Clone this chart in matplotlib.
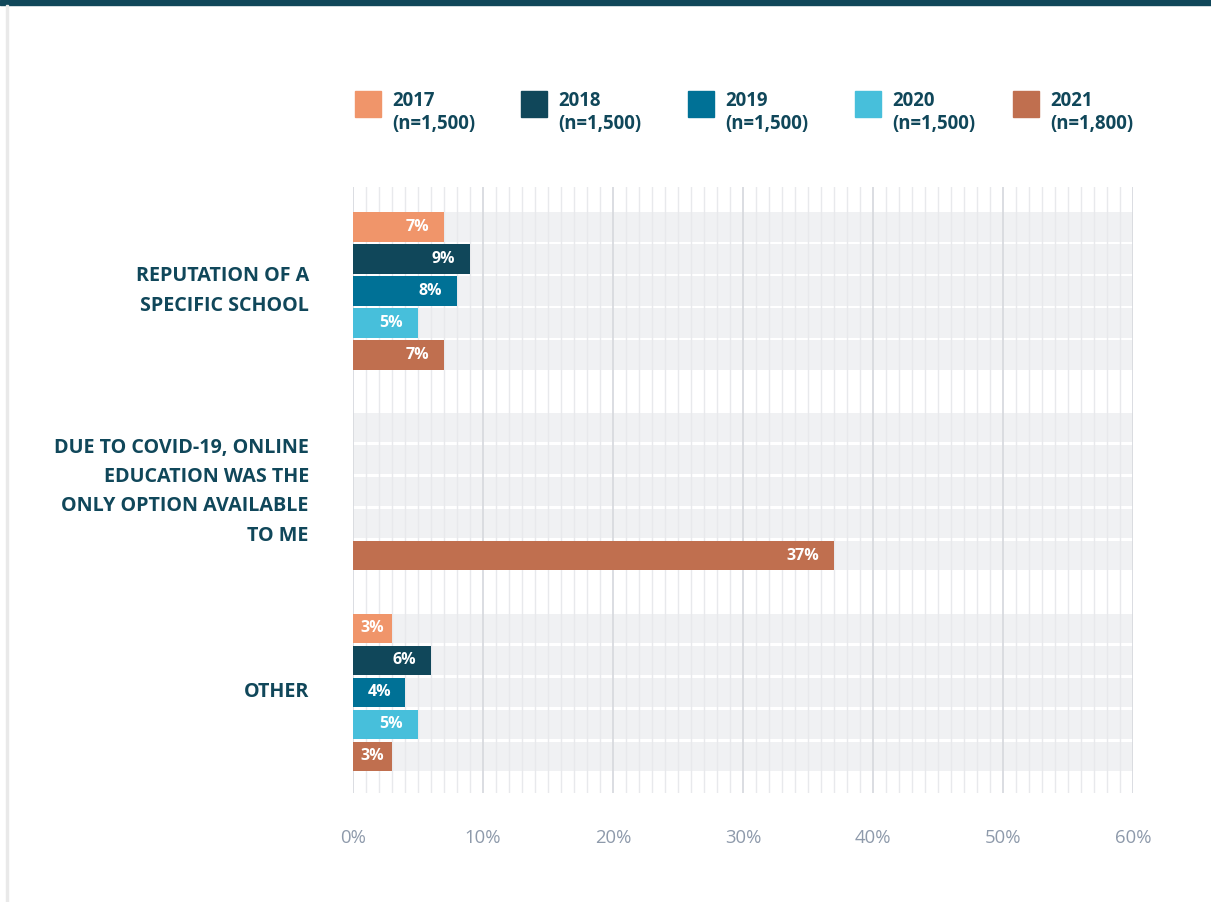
import numpy as np
import matplotlib.pyplot as plt
from matplotlib.patches import Rectangle

plt.rcParams['font.family'] = ['Open Sans', 'DejaVu Sans']

categories = ['REPUTATION OF A\nSPECIFIC SCHOOL',
              'DUE TO COVID-19, ONLINE\nEDUCATION WAS THE\nONLY OPTION AVAILABLE\nTO ME',
              'OTHER']
years = ['2017', '2018', '2019', '2020', '2021']
sample_sizes = ['1,500', '1,500', '1,500', '1,500', '1,800']
v2017 = [7, None, 3]
v2018 = [9, None, 6]
v2019 = [8, None, 4]
v2020 = [5, None, 5]
v2021 = [7, 37, 3]
values = [v2017, v2018, v2019, v2020, v2021]
colors = ['#f0956a', '#10475a', '#007196', '#47bfdb', '#c06f4f']

dark = '#10475a'
W, H = 1211, 902
fig = plt.figure(figsize=(W / 100, H / 100), dpi=100)

# page decoration
fig.patches.append(Rectangle((0, 1 - 5 / H), 1, 5 / H, transform=fig.transFigure,
                             color=dark, zorder=0))
fig.patches.append(Rectangle((6 / W, 0), 2 / W, 1 - 5 / H, transform=fig.transFigure,
                             color='#e9e9e9', zorder=0))

ax = fig.add_axes([353 / W, (H - 793) / H, 780 / W, 606 / H])
px_per_unit = 780 / 60

group_pitch = 6.27
bar_h = 0.91
for g, cat in enumerate(categories):
    pos = g * group_pitch + np.arange(len(years))
    # background bands
    ax.barh(pos, [60] * len(years), height=bar_h, color='#f0f1f3', zorder=1, lw=0)
    for i, yr in enumerate(years):
        val = values[i][g]
        if val is None:
            continue
        ax.barh(pos[i], val, height=bar_h, color=colors[i], zorder=3, lw=0)
        # keep the label inside short bars
        pad = min(15, (val * px_per_unit - 24) / 2)
        ax.annotate(f'{val}%', (val, pos[i]), xytext=(-pad * 0.72, 0), textcoords='offset points',
                    ha='right', va='center', color='white', fontsize=11.5,
                    fontweight='bold', zorder=4)
    ax.text(-3.4, pos.mean(), cat, ha='right', va='center', color=dark,
            fontsize=14.2, fontweight='bold', linespacing=1.62)

ax.set_xlim(0, 60)
ax.set_ylim(17.69, -1.25)
ax.set_xticks(np.arange(0, 61, 10))
ax.set_xticklabels([f'{t}%' for t in range(0, 61, 10)], color='#8e9aab', fontsize=13.3)
ax.set_xticks(np.arange(0, 61, 1), minor=True)
ax.set_yticks([])
ax.tick_params(axis='x', which='both', length=0, pad=26)
ax.set_axisbelow(False)
ax.grid(which='minor', axis='x', color='#e8e9ec', lw=1.0, zorder=2)
ax.grid(which='major', axis='x', color='#d8dadf', lw=1.3, zorder=2)
for s in ax.spines.values():
    s.set_visible(False)

# legend
leg_x = [355, 521, 688, 855, 1013]
for i, yr in enumerate(years):
    fig.patches.append(Rectangle((leg_x[i] / W, (H - 117) / H), 26 / W, 26 / H,
                                 transform=fig.transFigure, color=colors[i]))
    fig.text((leg_x[i] + 37) / W, (H - 112.5) / H, f'{yr}\n(n={sample_sizes[i]})',
             ha='left', va='center', color=dark, fontsize=13.4, fontweight='bold',
             linespacing=1.25)

fig.savefig('out.png', dpi=100)
